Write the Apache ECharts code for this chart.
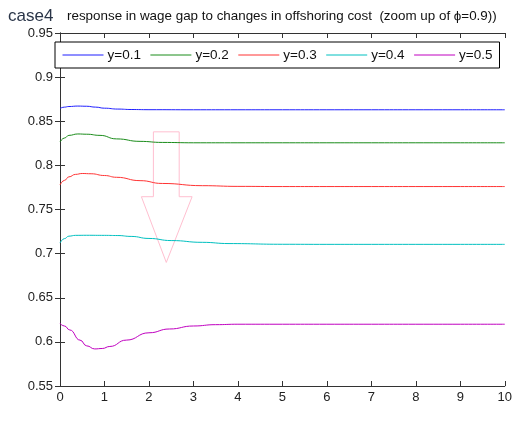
<!DOCTYPE html>
<html><head><meta charset="utf-8">
<script src="https://cdn.jsdelivr.net/npm/echarts@6/dist/echarts.min.js"></script>
<style>html,body{margin:0;padding:0;background:#fff}#c{width:515px;height:423px}</style>
</head><body><div id="c"></div>
<script>
const seriesNames = ['y=0.1','y=0.2','y=0.3','y=0.4','y=0.5'];
const xTicks = [0,1,2,3,4,5,6,7,8,9,10];
const tBlue = [0,0.1,0.2,0.4,0.6,0.8,1.0,1.3,1.6,2,3,4,5,6,7,8,9,10];
const vBlue = [0.8645,0.8660,0.8667,0.8672,0.8670,0.8660,0.8648,0.8638,0.8633,0.8631,0.8630,0.8630,0.8630,0.8630,0.8630,0.8630,0.8630,0.8630];
const tGreen = [0,0.1,0.2,0.4,0.6,0.9,1.27,1.8,2.3,3,4,5,6,7,8,9,10];
const vGreen = [0.8265,0.8310,0.8340,0.8356,0.8353,0.8340,0.8300,0.8272,0.8260,0.8256,0.8256,0.8256,0.8256,0.8256,0.8256,0.8256,0.8256];
const tRed = [0,0.1,0.2,0.35,0.5,0.7,1.0,1.27,1.8,2.3,3.2,4,5,6,7,8,9,10];
const vRed = [0.7778,0.7830,0.7870,0.7898,0.7908,0.7905,0.7885,0.7865,0.7827,0.7795,0.7770,0.7762,0.7760,0.7760,0.7760,0.7760,0.7760,0.7760];
const tCyan = [0,0.1,0.2,0.35,0.6,1.0,1.3,1.6,2.0,2.5,3.2,3.8,5,6,7,8,9,10];
const vCyan = [0.7120,0.7170,0.7198,0.7207,0.7208,0.7207,0.7205,0.7195,0.7172,0.7148,0.7128,0.7114,0.7106,0.7105,0.7105,0.7105,0.7105,0.7105];
const tMag = [0,0.1,0.22,0.45,0.6,0.78,0.95,1.12,1.49,2.0,2.46,3.0,3.5,4,5,6,7,8,9,10];
const vMag = [0.6210,0.6180,0.6135,0.6020,0.5955,0.5920,0.5925,0.5948,0.6020,0.6103,0.6146,0.6180,0.6195,0.6200,0.6200,0.6200,0.6200,0.6200,0.6200,0.6200];
// annotation arrow outline (data coordinates)
const arrowX = [2.10,2.68,2.68,2.97,2.39,1.83,2.10];
const arrowY = [0.838,0.838,0.7645,0.7645,0.690,0.7645,0.7645];

const colors = ['#1f1fff','#1a8c1a','#ff3333','#00c0c0','#c000c0'];
const ts = [tBlue,tGreen,tRed,tCyan,tMag];
const vs = [vBlue,vGreen,vRed,vCyan,vMag];
const font = 'Liberation Sans, Arial, sans-serif';

const chart = echarts.init(document.getElementById('c'));
const lineSeries = seriesNames.map((n,i)=>({
  name:n, type:'line', showSymbol:false, symbol:'none', smooth:0.5, smoothMonotone:'x',
  data: ts[i].map((t,j)=>[t,vs[i][j]]),
  lineStyle:{color:colors[i],width:1}, itemStyle:{color:colors[i]}, z:3
}));
const axisCommonX = {type:'value',min:0,max:10,interval:1,splitLine:{show:false},
  axisLine:{lineStyle:{color:'#333',width:1}},axisTick:{inside:true,length:5,lineStyle:{color:'#333'}}};
const axisCommonY = {type:'value',min:0.55,max:0.95,interval:0.05,splitLine:{show:false},
  axisLine:{show:true,lineStyle:{color:'#333',width:1}},axisTick:{show:true,inside:true,length:5,lineStyle:{color:'#333'}}};
chart.setOption({
  animation:false,
  backgroundColor:'#fff',
  title:[
    {text:'case4',left:3,top:3,textStyle:{fontFamily:font,fontSize:17,fontWeight:'normal',color:'#2a3548'}},
    {text:'response in wage gap to changes in offshoring cost  (zoom up of \u03d5=0.9))',left:62,top:5,textStyle:{fontFamily:font,fontSize:13.4,fontWeight:'normal',color:'#111'}}
  ],
  legend:{data:seriesNames,left:55,top:42,orient:'horizontal',padding:[6,7],itemWidth:41,itemHeight:14,itemGap:9,
    backgroundColor:'#fff',borderColor:'#000',borderWidth:1,
    itemStyle:{color:'transparent',borderWidth:0,opacity:0},
    lineStyle:{width:1},
    textStyle:{fontFamily:font,fontSize:13.5,color:'#111',padding:[0,0,0,-1]}},
  grid:{left:60,right:8,top:33,bottom:37},
  xAxis:[
    Object.assign({},axisCommonX,{position:'bottom',axisLabel:{fontFamily:font,fontSize:13,color:'#222',margin:5}}),
    Object.assign({},axisCommonX,{position:'top',axisLabel:{show:false}})
  ],
  yAxis:[
    Object.assign({},axisCommonY,{position:'left',axisLabel:{fontFamily:font,fontSize:13,color:'#222',margin:7}}),
    Object.assign({},axisCommonY,{position:'right',axisLabel:{show:false}})
  ],
  series: lineSeries.concat([{
    type:'custom', silent:true, z:2,
    data:[[0]],
    renderItem:(params,api)=>{
      const pts = arrowX.map((x,i)=>api.coord([x,arrowY[i]]));
      return {type:'polygon',shape:{points:pts},style:{fill:null,stroke:'#ffbfd0',lineWidth:1}};
    }
  }])
});
</script></body></html>
